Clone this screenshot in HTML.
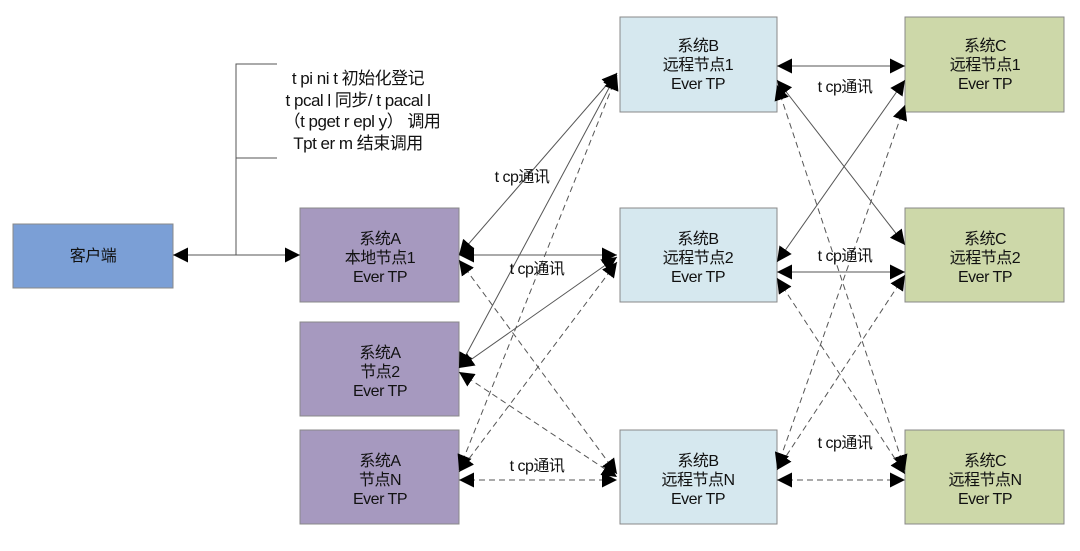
<!DOCTYPE html>
<html><head><meta charset="utf-8"><style>
html,body{margin:0;padding:0;background:#fff;}
svg text{font-family:"Liberation Sans","Noto Sans CJK SC",sans-serif;font-size:16px;fill:#111;text-anchor:middle;letter-spacing:-0.5px;}
svg text.n{font-size:17px;}
</style></head><body>
<svg width="1080" height="546" viewBox="0 0 1080 546" xmlns="http://www.w3.org/2000/svg">
<defs>
<marker id="a" viewBox="0 0 10 10" refX="10" refY="5" markerWidth="15" markerHeight="15" markerUnits="userSpaceOnUse" orient="auto-start-reverse"><path d="M0,0 L10,5 L0,10 z" fill="#000"/></marker>
</defs>
<g stroke="#888" stroke-width="1">
<rect x="13" y="224" width="160" height="64" fill="#7b9fd6"/>
<rect x="300" y="208" width="159" height="94" fill="#a699bf"/>
<rect x="300" y="322" width="159" height="94" fill="#a699bf"/>
<rect x="300" y="430" width="159" height="94" fill="#a699bf"/>
<rect x="620" y="17" width="157" height="95" fill="#d6e8ef"/>
<rect x="620" y="208" width="157" height="94" fill="#d6e8ef"/>
<rect x="620" y="430" width="157" height="94" fill="#d6e8ef"/>
<rect x="905" y="17" width="159" height="95" fill="#cdd8a9"/>
<rect x="905" y="208" width="159" height="94" fill="#cdd8a9"/>
<rect x="905" y="430" width="159" height="94" fill="#cdd8a9"/>
</g>
<g stroke="#555" stroke-width="1" fill="none">
<path d="M277,64 H236 V255 M236,158 H277"/>
<line x1="236" y1="255" x2="173" y2="255" marker-end="url(#a)"/>
<line x1="236" y1="255" x2="300" y2="255" marker-end="url(#a)"/>
<line x1="617" y1="73" x2="459" y2="255" marker-start="url(#a)" marker-end="url(#a)"/>
<line x1="617" y1="73" x2="459" y2="368" marker-start="url(#a)" marker-end="url(#a)"/>
<line x1="459" y1="255" x2="617" y2="255" marker-start="url(#a)" marker-end="url(#a)"/>
<line x1="617" y1="257" x2="459" y2="368" marker-start="url(#a)" marker-end="url(#a)"/>
<line x1="777" y1="66" x2="905" y2="66" marker-start="url(#a)" marker-end="url(#a)"/>
<line x1="777" y1="80" x2="905" y2="245" marker-start="url(#a)" marker-end="url(#a)"/>
<line x1="905" y1="80" x2="777" y2="262" marker-start="url(#a)" marker-end="url(#a)"/>
<line x1="777" y1="272" x2="905" y2="272" marker-start="url(#a)" marker-end="url(#a)"/>
</g>
<g stroke="#555" stroke-width="1" fill="none" stroke-dasharray="6,4">
<line x1="617" y1="75" x2="459" y2="470" marker-start="url(#a)" marker-end="url(#a)"/>
<line x1="617" y1="262" x2="459" y2="472" marker-start="url(#a)" marker-end="url(#a)"/>
<line x1="459" y1="260" x2="617" y2="474" marker-start="url(#a)" marker-end="url(#a)"/>
<line x1="459" y1="372" x2="617" y2="477" marker-start="url(#a)" marker-end="url(#a)"/>
<line x1="459" y1="480" x2="617" y2="480" marker-start="url(#a)" marker-end="url(#a)"/>
<line x1="777" y1="85" x2="905" y2="470" marker-start="url(#a)" marker-end="url(#a)"/>
<line x1="905" y1="105" x2="777" y2="468" marker-start="url(#a)" marker-end="url(#a)"/>
<line x1="905" y1="275" x2="777" y2="470" marker-start="url(#a)" marker-end="url(#a)"/>
<line x1="777" y1="278" x2="905" y2="474" marker-start="url(#a)" marker-end="url(#a)"/>
<line x1="777" y1="480" x2="905" y2="480" marker-start="url(#a)" marker-end="url(#a)"/>
</g>
<g>
<text x="93" y="261">客户端</text>
<text x="380" y="244">系统A</text><text x="380" y="263">本地节点1</text><text x="380" y="282">Ever TP</text>
<text x="380" y="358">系统A</text><text x="380" y="377">节点2</text><text x="380" y="396">Ever TP</text>
<text x="380" y="466">系统A</text><text x="380" y="485">节点N</text><text x="380" y="504">Ever TP</text>
<text x="698" y="51">系统B</text><text x="698" y="70">远程节点1</text><text x="698" y="89">Ever TP</text>
<text x="698" y="244">系统B</text><text x="698" y="263">远程节点2</text><text x="698" y="282">Ever TP</text>
<text x="698" y="466">系统B</text><text x="698" y="485">远程节点N</text><text x="698" y="504">Ever TP</text>
<text x="985" y="51">系统C</text><text x="985" y="70">远程节点1</text><text x="985" y="89">Ever TP</text>
<text x="985" y="244">系统C</text><text x="985" y="263">远程节点2</text><text x="985" y="282">Ever TP</text>
<text x="985" y="466">系统C</text><text x="985" y="485">远程节点N</text><text x="985" y="504">Ever TP</text>
<text class="n" x="358" y="84">t pi ni t 初始化登记</text>
<text class="n" x="358" y="106">t pcal l 同步/ t pacal l</text>
<text class="n" x="362" y="127">（t pget r epl y） 调用</text>
<text class="n" x="358" y="149">Tpt er m 结束调用</text>
<text x="522" y="182">t cp通讯</text>
<text x="537" y="274">t cp通讯</text>
<text x="537" y="471">t cp通讯</text>
<text x="845" y="92">t cp通讯</text>
<text x="845" y="261">t cp通讯</text>
<text x="845" y="448">t cp通讯</text>
</g>
</svg>
</body></html>
